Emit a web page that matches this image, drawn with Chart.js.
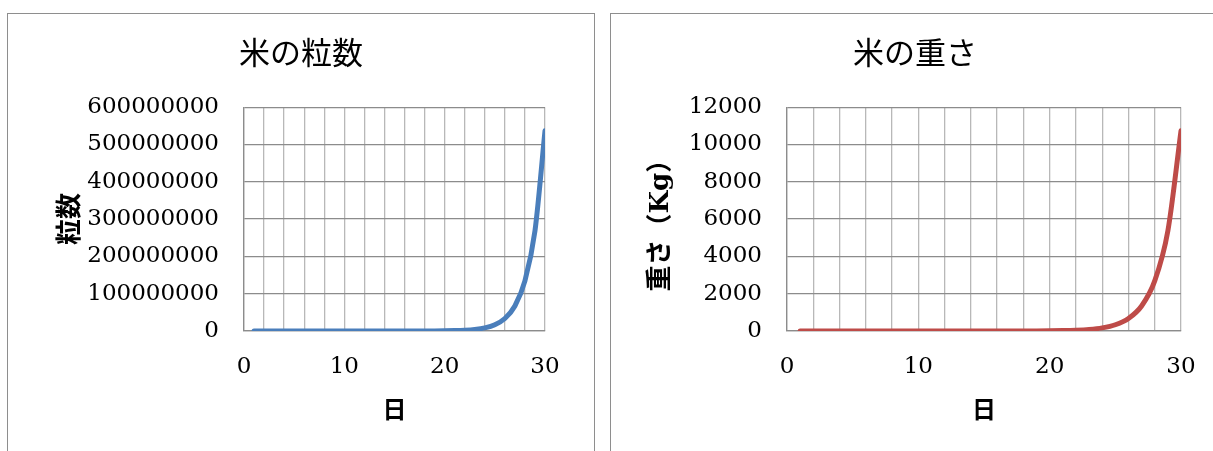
<!DOCTYPE html>
<html lang="ja">
<head>
<meta charset="utf-8">
<title>米の粒数・米の重さ</title>
<script src="https://cdn.jsdelivr.net/npm/chart.js@4.4.1/dist/chart.umd.min.js"></script>
<style>
  html, body { margin: 0; padding: 0; background: #fff; overflow: hidden; }
  body { width: 1213px; height: 451px; position: relative; }
  .panel { position: absolute; top: 13px; border: 1px solid #8e8e8e; border-bottom: none; }
  #panelCount { left: 7px; }
  #panelWeight { left: 610px; }
  canvas { display: block; }
</style>
</head>
<body>
<div class="panel" id="panelCount"><canvas id="countChart" width="586" height="438"></canvas></div>
<div class="panel" id="panelWeight"><canvas id="weightChart" width="608" height="438"></canvas></div>
<script>
// 日 (day number)
const days = [1, 2, 3, 4, 5, 6, 7, 8, 9, 10, 11, 12, 13, 14, 15,
  16, 17, 18, 19, 20, 21, 22, 23, 24, 25, 26, 27, 28, 29, 30];

// 米の粒数 (grains on each day)
const grainCounts = [1, 2, 4, 8, 16, 32, 64, 128, 256, 512, 1024, 2048, 4096, 8192, 16384,
  32768, 65536, 131072, 262144, 524288, 1048576, 2097152, 4194304, 8388608, 16777216,
  33554432, 67108864, 134217728, 268435456, 536870912];

// 米の重さ in Kg
const grainWeightsKg = [0.00002, 0.00004, 0.00008, 0.00016, 0.00032, 0.00064, 0.00128, 0.00256,
  0.00512, 0.01024, 0.02048, 0.04096, 0.08192, 0.16384, 0.32768, 0.65536, 1.31072, 2.62144,
  5.24288, 10.48576, 20.97152, 41.94304, 83.88608, 167.77216, 335.54432, 671.08864,
  1342.17728, 2684.35456, 5368.70912, 10737.41824];

const xTickLabels = [0, 10, 20, 30];
const countTicks = [0, 100000000, 200000000, 300000000, 400000000, 500000000, 600000000];
const weightTicks = [0, 2000, 4000, 6000, 8000, 10000, 12000];

(function initRiceCharts() {
  if (typeof Chart === 'undefined') return;

  const tickFont = { family: "'DejaVu Serif', 'Liberation Serif', serif", size: 23 };
  const axisTitleFont = { family: "'Noto Sans CJK JP', 'DejaVu Serif', sans-serif", size: 26, weight: 'bold' };
  const weightTitleFont = { family: "'DejaVu Serif', 'Noto Sans CJK JP', serif", size: 26, weight: 'bold' };

  function toPoints(values) {
    return days.map((day, i) => ({ x: day, y: values[i] }));
  }

  function buildChart(canvasId, opts) {
    const yTicks = opts.yTicks;
    const yStep = yTicks[1] - yTicks[0];

    return new Chart(document.getElementById(canvasId).getContext('2d'), {
      type: 'line',
      data: {
        datasets: [{
          data: toPoints(opts.values),
          borderColor: opts.color,
          borderWidth: 5,
          pointRadius: 0,
          fill: false,
          cubicInterpolationMode: 'monotone',
          borderCapStyle: 'round'
        }]
      },
      options: {
        responsive: false,
        animation: false,
        devicePixelRatio: 1,
        layout: { padding: 0 },
        plugins: {
          legend: { display: false },
          tooltip: { enabled: false },
          title: {
            display: true,
            text: opts.title,
            color: '#000',
            font: { family: "'Noto Sans CJK JP', sans-serif", size: 31, weight: 'normal' },
            padding: { top: 20, bottom: 36 }
          }
        },
        scales: {
          x: {
            type: 'linear',
            min: 0,
            max: 30,
            afterFit(scale) { scale.height = 121; },
            ticks: {
              stepSize: 2,
              autoSkip: false,
              maxRotation: 0,
              padding: 22,
              color: '#000',
              font: tickFont,
              callback: (v) => (xTickLabels.includes(v) ? String(v) : '')
            },
            grid: { color: '#b8b8b8', lineWidth: 1.3, drawTicks: false },
            border: { display: true, color: '#8c8c8c', width: 1.3 },
            title: {
              display: true,
              text: '日',
              color: '#000',
              font: { family: "'Noto Sans CJK JP', sans-serif", size: 24, weight: 'bold' },
              padding: { top: 0, bottom: 29 }
            }
          },
          y: {
            min: yTicks[0],
            max: yTicks[yTicks.length - 1],
            afterFit(scale) { scale.width = opts.yWidth; },
            ticks: {
              stepSize: yStep,
              padding: 25,
              color: '#000',
              font: tickFont,
              callback: (v) => String(v)
            },
            grid: { color: '#8c8c8c', lineWidth: 1.3, drawTicks: false },
            border: { display: true, color: '#8c8c8c', width: 1.3 },
            title: {
              display: true,
              text: opts.yTitle,
              color: '#000',
              font: opts.yTitleFont,
              padding: { top: opts.yTitlePad, bottom: 0 }
            }
          },
          // empty right-hand strip so the title stays centred on the whole panel
          spacer: {
            position: 'right',
            display: true,
            min: 0,
            max: 1,
            afterFit(scale) { scale.width = opts.padRight; },
            ticks: { display: false },
            grid: { display: false, drawTicks: false },
            border: { display: false }
          }
        }
      }
    });
  }

  buildChart('countChart', {
    title: '米の粒数',
    yTitle: '粒数',
    yTitleFont: axisTitleFont,
    yTitlePad: 45,
    values: grainCounts,
    yTicks: countTicks,
    color: '#4a7ebb',
    yWidth: 236,
    padRight: 49
  });

  buildChart('weightChart', {
    title: '米の重さ',
    yTitle: '重さ（Kg）',
    yTitleFont: weightTitleFont,
    yTitlePad: 35,
    values: grainWeightsKg,
    yTicks: weightTicks,
    color: '#be4b48',
    yWidth: 176,
    padRight: 38
  });
})();
</script>
</body>
</html>
